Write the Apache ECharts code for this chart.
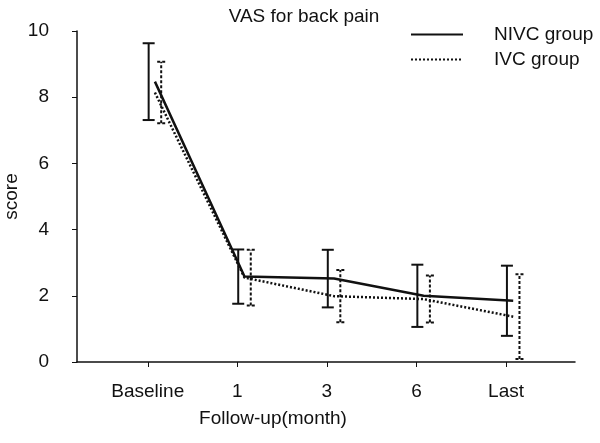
<!DOCTYPE html>
<html><head><meta charset="utf-8">
<script src="https://cdn.jsdelivr.net/npm/echarts@6/dist/echarts.min.js"></script>
<style>html,body{margin:0;padding:0;background:#fff}#c{width:600px;height:443px}</style>
</head><body><div id="c"></div>
<script>
var categories = ['Baseline', '1', '3', '6', 'Last'];
var nivcMean = [8.47, 2.58, 2.52, 2.0, 1.85];
var nivcSD   = [1.16, 0.82, 0.87, 0.94, 1.06];
var ivcMean  = [8.14, 2.55, 1.99, 1.9, 1.37];
var ivcSD    = [0.93, 0.84, 0.79, 0.71, 1.28];
var yTicks = [0, 2, 4, 6, 8, 10];

var LINE_SHIFT = 0.08, NIVC_BAR_SHIFT = 0.01, IVC_BAR_SHIFT = 0.15;
var idx = categories.map(function(_, i){ return i; });

function lineData(mean){ return mean.map(function(v,i){ return [i + LINE_SHIFT, v]; }); }
function barData(mean, sd, shift){ return mean.map(function(v,i){ return [i + shift, v - sd[i], v + sd[i]]; }); }

function errRender(capW, dash, width){
  return function(params, api){
    var x = api.value(0);
    var lo = api.coord([x, api.value(1)]);
    var hi = api.coord([x, api.value(2)]);
    var st = {stroke:'#111', lineWidth: width, lineDash: dash};
    return {type:'group', children:[
      {type:'line', shape:{x1:lo[0],y1:lo[1],x2:hi[0],y2:hi[1]}, style:st},
      {type:'line', shape:{x1:lo[0]-capW,y1:lo[1],x2:lo[0]+capW,y2:lo[1]}, style:st},
      {type:'line', shape:{x1:hi[0]-capW,y1:hi[1],x2:hi[0]+capW,y2:hi[1]}, style:st}
    ]};
  };
}

var chart = echarts.init(document.getElementById('c'));
var font = 'Liberation Sans, Arial, sans-serif';
var fs = 19;
chart.setOption({
  animation:false,
  title:{text:'VAS for back pain', left:299, top:2, textAlign:'center',
    textStyle:{fontFamily:font, fontSize:fs, fontWeight:'normal', color:'#111'}},
  legend:{orient:'vertical', left:405, top:20, itemWidth:52, itemHeight:14, itemGap:6,
    data:['NIVC group','IVC group'],
    itemStyle:{opacity:0},
    textStyle:{fontFamily:font, fontSize:fs, color:'#111', padding:[0,0,0,26]}},
  grid:{left:77, right:25, top:31, bottom:81, outerBoundsMode:'none', containLabel:false},
  xAxis:{type:'value', min:-0.79, max:4.77,
    name:'Follow-up(month)', nameLocation:'middle', nameGap:47, nameMoveOverlap:false,
    nameTextStyle:{fontFamily:font, fontSize:fs, color:'#111', padding:[0,106,0,0]},
    axisLine:{onZero:false, lineStyle:{color:'#111', width:1.5}},
    axisTick:{show:true, customValues: idx, length:5, inside:false, lineStyle:{color:'#111'}},
    axisLabel:{customValues: idx, margin:20, fontFamily:font, fontSize:fs, color:'#111',
      formatter:function(v){ return categories[Math.round(v)]; }},
    splitLine:{show:false}},
  yAxis:{type:'value', min:0, max:10, interval:2,
    name:'score', nameLocation:'middle', nameGap:56, nameMoveOverlap:false,
    nameTextStyle:{fontFamily:font, fontSize:fs, color:'#111'},
    axisLine:{show:true, onZero:false, lineStyle:{color:'#111', width:1.5}},
    axisTick:{show:true, length:5, lineStyle:{color:'#111'}},
    axisLabel:{margin:28, fontFamily:font, fontSize:fs, color:'#111',
      formatter:function(v){ return yTicks.indexOf(v) >= 0 ? String(v) : ''; }},
    splitLine:{show:false}},
  series:[
    {name:'NIVC group', type:'line', data:lineData(nivcMean), symbol:'none',
      lineStyle:{color:'#111', width:2.5, type:'solid'}, itemStyle:{color:'#111'}, z:3},
    {name:'IVC group', type:'line', data:lineData(ivcMean), symbol:'none',
      lineStyle:{color:'#111', width:2.5, type:[2,2]}, itemStyle:{color:'#111'}, z:3},
    {name:'NIVC err', type:'custom', data:barData(nivcMean, nivcSD, NIVC_BAR_SHIFT),
      encode:{x:0, y:[1,2]}, renderItem:errRender(6, null, 2), z:2},
    {name:'IVC err', type:'custom', data:barData(ivcMean, ivcSD, IVC_BAR_SHIFT),
      encode:{x:0, y:[1,2]}, renderItem:errRender(4, [3,2], 2), z:2}
  ]
});
</script></body></html>
